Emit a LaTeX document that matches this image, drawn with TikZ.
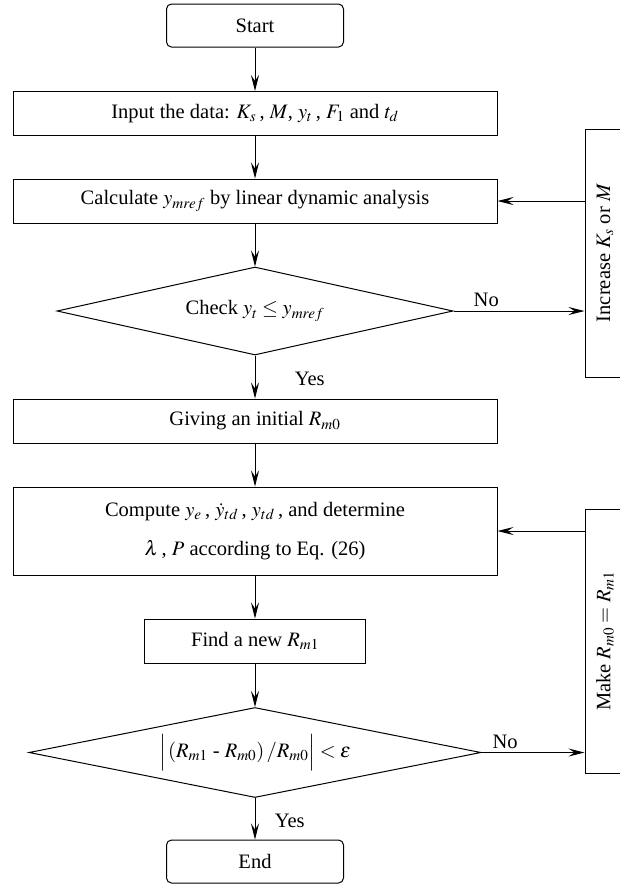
\documentclass[tikz,border=0pt]{standalone}
\usepackage{mathptmx}
\usepackage{fontspec}
\setmainfont{Liberation Serif}
\usetikzlibrary{positioning,shapes.geometric,arrows.meta}
\tikzset{
  stepbox/.style={rectangle, fill=white, draw, minimum width=484pt, minimum height=44pt, inner sep=0pt},
  terminal/.style={rectangle, rounded corners=5pt, fill=white, draw, minimum width=177pt, minimum height=43pt, inner sep=0pt},
  decision/.style={diamond, aspect=4.5, fill=white, draw, inner sep=0pt},
  sidebox/.style={rectangle, fill=white, draw, minimum width=40pt, inner sep=0pt},
  flow/.style={-{Stealth[length=16pt,width=8pt,inset=6pt]}}
}
\begin{document}
\begin{tikzpicture}[x=1pt, y=-1pt, line width=1pt,
        font=\fontsize{20.5}{24}\selectfont]
      \useasboundingbox (0,0) rectangle (620,887);
      \node [terminal] (start) at (255,25.5) {Start};
      \node [stepbox] (input) at (255,113.5) {Input the data: $K_s$\,, $M$, $y_t$\,, $F_1$ and $t_d$};
      \node [stepbox] (calc) at (255,201) {Calculate $y_{mref}$ by linear dynamic analysis};
      \node [decision, minimum width=396pt, minimum height=88pt] (check) at (255,311) {Check $y_t \le y_{mref}$};
      \node [stepbox] (initial) at (255,421) {Giving an initial $R_{m0}$};
      \node [stepbox, minimum height=88pt, align=center] (compute) at (255,531)
        {Compute $y_e$\,, $\dot{y}_{td}$\,, $y_{td}$\,, and determine\\[15pt] $\lambda$\,, $P$ according to Eq. (26)};
      \node [stepbox, minimum width=221pt] (find) at (255,641) {Find a new $R_{m1}$};
      \node [decision, aspect=5, minimum width=452pt, minimum height=90pt] (conv) at (255,752.5)
        {$\Big|\,(R_{m1}\mbox{ - }R_{m0})\,/R_{m0}\Big| < \varepsilon$};
      \node [terminal] (end) at (255,861.5) {End};
      % feedback boxes on the right
      \node [sidebox, minimum height=248pt] (increase) at (605,253) {\rotatebox{90}{Increase $K_s$ or $M$}};
      \node [sidebox, minimum height=264pt] (update) at (605,641) {\rotatebox{90}{Make $R_{m0} = R_{m1}$}};

      \draw [flow] (start) -- (input);
      \draw [flow] (input) -- (calc);
      \draw [flow] (calc) -- (check);
      \draw [flow] (check) -- node [pos=0.55, anchor=west, xshift=36pt] {Yes} (initial);
      \draw [flow] (initial) -- (compute);
      \draw [flow] (compute) -- (find);
      \draw [flow] (find) -- (conv);
      \draw [flow] (conv) -- node [pos=0.55, anchor=west, xshift=16pt] {Yes} (end);
      \draw [flow] (check) -- node [above, pos=0.25] {No} (check -| increase.west);
      \draw [flow] (calc -| increase.west) -- (calc);
      \draw [flow] (conv) -- node [above, pos=0.23] {No} (conv -| update.west);
      \draw [flow] (compute -| update.west) -- (compute);
    \end{tikzpicture}
\end{document}
